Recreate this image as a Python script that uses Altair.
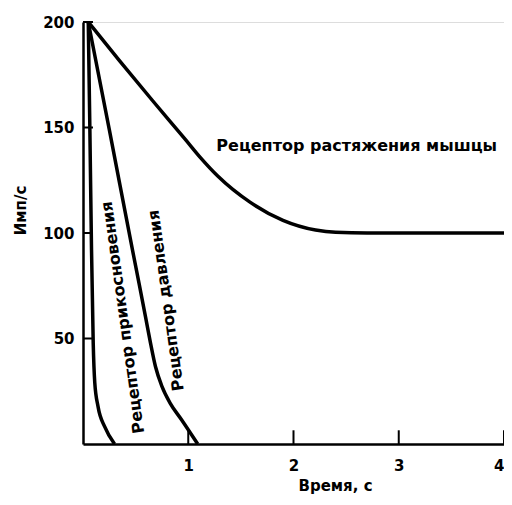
import altair as alt
import pandas as pd

# Muscle stretch receptor
muscle_x = [0.05, 0.35, 0.66, 0.97, 1.12, 1.28, 1.59, 1.9, 2.21, 2.4, 2.7, 4.0]
muscle_y = [200, 181.5, 162.8, 144.5, 135.5, 127, 114.5, 106, 101.4, 100.3, 100, 100]
# Pressure receptor
press_x = [0.05, 0.25, 0.47, 0.533, 0.595, 0.642, 0.689, 0.751, 0.829, 0.938, 1.09]
press_y = [200, 149, 92, 76, 60, 47.7, 36.6, 27.2, 19.3, 11.4, 0]
# Touch receptor
touch_x = [0.05, 0.065, 0.081, 0.097, 0.112, 0.143, 0.206, 0.3]
touch_y = [200, 150, 92, 48, 29, 17.7, 8.2, 0]

x_ticks = [1, 2, 3, 4]
y_ticks = [50, 100, 150, 200]

labels_text = ["Рецептор растяжения мышцы", "Рецептор прикосновения", "Рецептор давления"]
labels_x = [2.6, 0.38, 0.79]
labels_y = [141, 60, 68]
labels_angle = [0, 262, 262]

W, H = 421, 422
FONT = "DejaVu Sans"

rows = []
for name, xs, ys in [("muscle", muscle_x, muscle_y), ("press", press_x, press_y), ("touch", touch_x, touch_y)]:
    for i, (a, b) in enumerate(zip(xs, ys)):
        rows.append({"series": name, "t": a, "v": b, "order": i})
df = pd.DataFrame(rows)

xscale = alt.Scale(domain=[0, 4], nice=False, zero=False)
yscale = alt.Scale(domain=[0, 200], nice=False)

lines = alt.Chart(df).mark_line(color="black", strokeWidth=3.5, interpolate="monotone").encode(
    x=alt.X("t:Q", scale=xscale, axis=alt.Axis(
        values=x_ticks, format="d", ticks=False, grid=False, domainColor="black", domainWidth=2.5,
        labelFont=FONT, labelFontSize=15, labelFontWeight="bold", labelColor="black",
        labelPadding=14, title="Время, с", titleFont=FONT, titleFontSize=15,
        titleFontWeight="bold", titleColor="black", titleX=252, titleY=41,
        titleBaseline="middle", titleAlign="center")),
    y=alt.Y("v:Q", scale=yscale, axis=alt.Axis(
        values=y_ticks, format="d", ticks=False, grid=False, domainColor="black", domainWidth=2.5,
        labelFont=FONT, labelFontSize=15, labelFontWeight="bold", labelColor="black",
        labelPadding=9, title="Имп/с", titleFont=FONT, titleFontSize=15,
        titleFontWeight="bold", titleColor="black", titleAngle=270, titleX=-63,
        titleY=188, titleBaseline="middle", titleAlign="center")),
    detail="series:N",
    order="order:Q",
)

xt_df = pd.DataFrame({"tx": x_ticks, "a0": [0] * len(x_ticks), "a1": [6.5] * len(x_ticks)})
yt_df = pd.DataFrame({"vy": y_ticks, "b0": [0.0] * len(y_ticks), "b1": [0.095] * len(y_ticks)})

xt = alt.Chart(xt_df).mark_rule(color="black", strokeWidth=2).encode(
    x=alt.X("tx:Q", scale=xscale), y=alt.Y("a0:Q", scale=yscale), y2="a1:Q")
yt = alt.Chart(yt_df).mark_rule(color="black", strokeWidth=2).encode(
    y=alt.Y("vy:Q", scale=yscale), x=alt.X("b0:Q", scale=xscale), x2="b1:Q")

lab_df = pd.DataFrame({"text": labels_text, "t": labels_x, "v": labels_y, "angle": labels_angle})
texts = alt.Chart(lab_df).mark_text(font=FONT, fontSize=16, fontWeight="bold", color="black",
                                     baseline="middle", align="center").encode(
    x=alt.X("t:Q", scale=xscale), y=alt.Y("v:Q", scale=yscale), text="text:N",
    angle=alt.Angle("angle:Q", scale=None))

chart = alt.layer(lines, xt, yt, texts).properties(
    width=W, height=H,
    autosize=alt.AutoSizeParams(type="none"),
    padding={"left": 75, "top": 14, "right": 0, "bottom": 53},
).configure_view(stroke=None).configure(background="white")

chart.save("out.html", embed_options={"renderer": "svg", "actions": False})
